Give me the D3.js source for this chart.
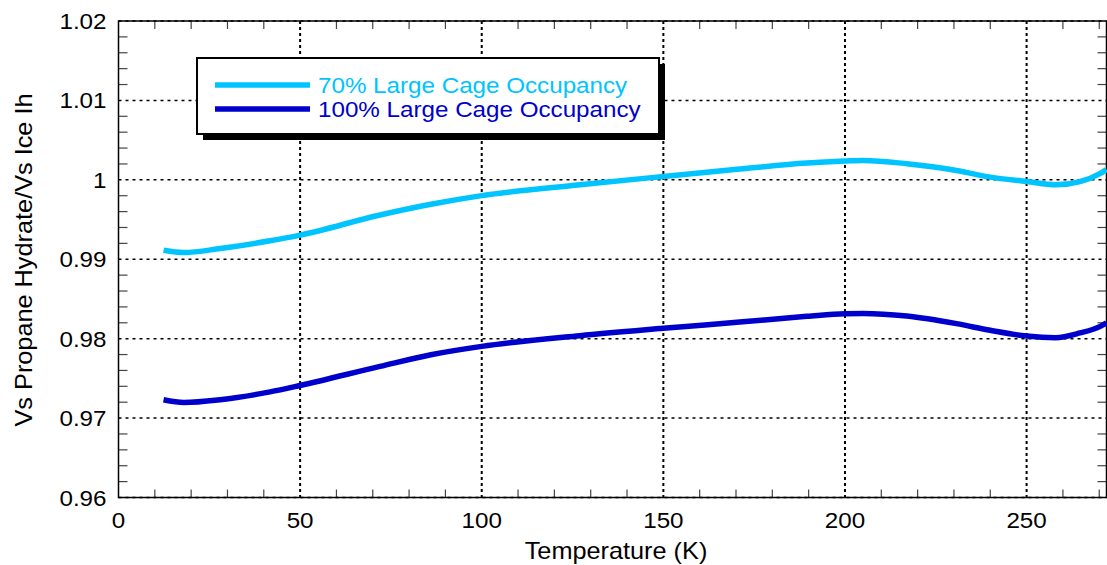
<!DOCTYPE html>
<html>
<head>
<meta charset="utf-8">
<script src="https://cdn.jsdelivr.net/npm/d3@7/dist/d3.min.js"></script>
<style>
    body { margin: 0; background: #fff; }
    svg { display: block; font-family: "Liberation Sans", Arial, sans-serif; }
    .label { font-size: 22px; fill: #000; }
    .title { font-size: 23px; fill: #000; }
</style>
</head>
<body>
<div id="chart"></div>
<script>
// Data
var temperatures = [12.4, 18, 28, 41.7, 50, 72, 86, 100, 127, 150, 171, 189.5, 200, 205, 217, 230.7, 240, 250, 258, 264.7, 270.3, 272];
var occupancy70 = [0.99114, 0.99085, 0.99135, 0.99232, 0.99304, 0.99557, 0.99692, 0.99801, 0.99937, 1.00042, 1.00135, 1.00211, 1.00236, 1.00244, 1.00203, 1.00118, 1.00034, 0.99979, 0.99937, 0.99978, 1.00082, 1.00130];
var occupancy100 = [0.97231, 0.97197, 0.97232, 0.97330, 0.97411, 0.97651, 0.97798, 0.97903, 0.98038, 0.98130, 0.98209, 0.98281, 0.98315, 0.98318, 0.98285, 0.98189, 0.98105, 0.98033, 0.98013, 0.98072, 0.98155, 0.98198];
var seriesNames = ['70% Large Cage Occupancy', '100% Large Cage Occupancy'];
var seriesColors = ['#00c4ff', '#0000cc'];
var xTicks = [0, 50, 100, 150, 200, 250];
var yTicks = [0.96, 0.97, 0.98, 0.99, 1, 1.01, 1.02];

var width = 1107, height = 565;
var plot = {'left': 118.5, 'right': 1106.5, 'top': 21, 'bottom': 497.5};
var stretch = 1.1; // the original font is a bit wider than Liberation Sans

var svg = d3.select('#chart').append('svg')
    .attr('width', width)
    .attr('height', height);

var x = d3.scaleLinear().domain([0, 272]).range([plot.left, plot.right]);
var y = d3.scaleLinear().domain([0.96, 1.02]).range([plot.bottom, plot.top]);

var series = [occupancy70, occupancy100].map(function(vals, i){
    return {name: seriesNames[i], color: seriesColors[i],
        values: temperatures.map(function(t, j){ return {t: t, v: vals[j]}; })};
});

function place(tx, ty, rot){
    return 'translate(' + tx + ',' + ty + ')' + (rot ? ' rotate(' + rot + ')' : '') + ' scale(' + stretch + ',1)';
}

// GRIDLINES
var grid = svg.append('g').attr('class', 'grid');
grid.selectAll('.gx').data(xTicks.slice(1)).enter().append('line')
    .attr('x1', function(d){ return x(d); }).attr('x2', function(d){ return x(d); })
    .attr('y1', plot.top).attr('y2', plot.bottom)
    .attr('stroke', '#000').attr('stroke-width', 2).attr('stroke-dasharray', '3,3');
grid.selectAll('.gy').data(yTicks).enter().append('line')
    .attr('x1', plot.left).attr('x2', plot.right)
    .attr('y1', function(d){ return y(d); }).attr('y2', function(d){ return y(d); })
    .attr('stroke', '#000').attr('stroke-width', 1.5).attr('stroke-dasharray', '3,4');

// MINOR TICKS (inward, all four sides)
var xMinor = d3.range(10, 272, 10).filter(function(d){ return d % 50 !== 0; });
var yMinor = d3.range(0, 30).map(function(i){ return 0.96 + i * 0.002; })
    .filter(function(d, i){ return i % 5 !== 0; });
var ticks = svg.append('g').attr('stroke', '#444').attr('stroke-width', 1.2);
xMinor.forEach(function(d){
    ticks.append('line').attr('x1', x(d)).attr('x2', x(d)).attr('y1', plot.top).attr('y2', plot.top + 8);
    ticks.append('line').attr('x1', x(d)).attr('x2', x(d)).attr('y1', plot.bottom).attr('y2', plot.bottom - 8);
});
yMinor.forEach(function(d){
    ticks.append('line').attr('x1', plot.left).attr('x2', plot.left + 9).attr('y1', y(d)).attr('y2', y(d));
    ticks.append('line').attr('x1', plot.right).attr('x2', plot.right - 9).attr('y1', y(d)).attr('y2', y(d));
});

// FRAME
svg.append('rect')
    .attr('x', plot.left).attr('y', plot.top)
    .attr('width', plot.right - plot.left).attr('height', plot.bottom - plot.top)
    .attr('fill', 'none').attr('stroke', '#000').attr('stroke-width', 1.5);

// TICK LABELS
svg.selectAll('.xlab').data(xTicks).enter().append('text')
    .attr('class', 'label')
    .attr('transform', function(d){ return place(x(d), plot.bottom + 30); })
    .attr('text-anchor', 'middle')
    .text(function(d){ return d; });
svg.selectAll('.ylab').data(yTicks).enter().append('text')
    .attr('class', 'label')
    .attr('transform', function(d){ return place(plot.left - 12, y(d) + 8); })
    .attr('text-anchor', 'end')
    .text(function(d){ return +d.toFixed(2); });

// AXIS TITLES
svg.append('text').attr('class', 'title')
    .attr('transform', place(616, 559))
    .attr('text-anchor', 'middle')
    .text('Temperature (K)');
svg.append('text').attr('class', 'title')
    .attr('transform', place(32, 260, -90))
    .attr('text-anchor', 'middle')
    .text('Vs Propane Hydrate/Vs Ice Ih');

// LINES
var line = d3.line()
    .x(function(d){ return x(d.t); })
    .y(function(d){ return y(d.v); })
    .curve(d3.curveMonotoneX);

svg.selectAll('.series').data(series).enter().append('path')
    .attr('d', function(d){ return line(d.values); })
    .attr('fill', 'none')
    .attr('stroke', function(d){ return d.color; })
    .attr('stroke-width', 5.5);

// LEGEND
var lg = svg.append('g').attr('transform', 'translate(197,58)');
lg.append('rect').attr('x', 6).attr('y', 6).attr('width', 462).attr('height', 76).attr('fill', '#000');
lg.append('rect').attr('width', 462).attr('height', 76)
    .attr('fill', '#fff').attr('stroke', '#000').attr('stroke-width', 2);
series.forEach(function(s, i){
    var ly = 27 + i * 24;
    lg.append('line').attr('x1', 18).attr('x2', 113).attr('y1', ly).attr('y2', ly)
        .attr('stroke', s.color).attr('stroke-width', 5.5);
    lg.append('text').attr('transform', place(121, ly + 8))
        .style('font-size', '22px').attr('fill', s.color)
        .text(s.name);
});
</script>
</body>
</html>
